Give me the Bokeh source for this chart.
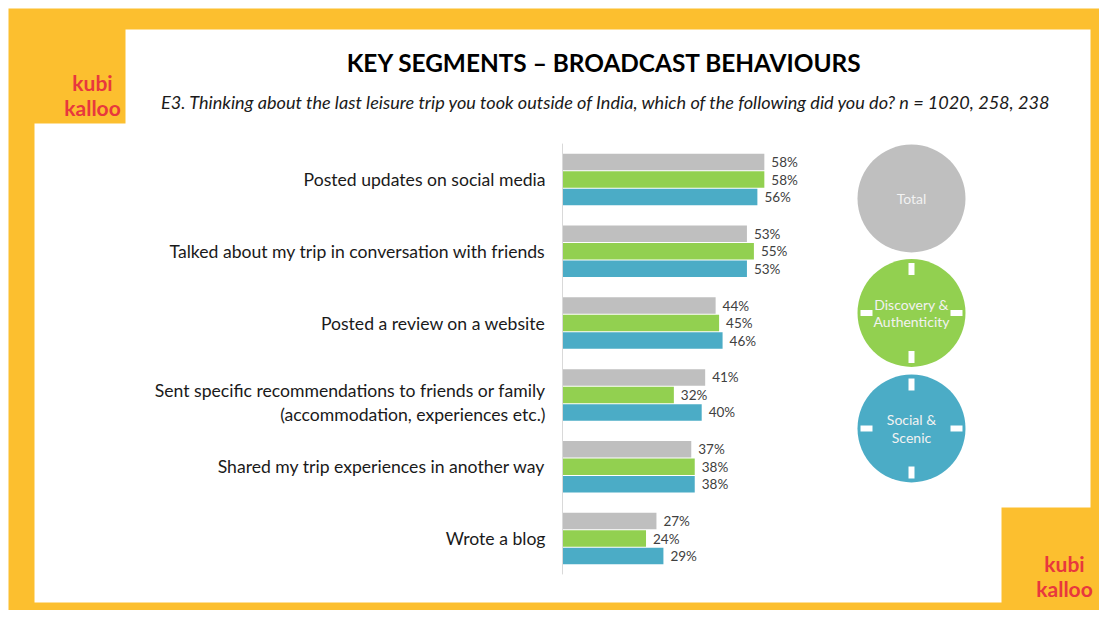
from bokeh.plotting import figure
from bokeh.models import Range1d, ColumnDataSource
from bokeh.core.properties import value
from bokeh.embed import file_html
from bokeh.resources import INLINE
import numpy as np

# ---------------- data ----------------
categories = [
    "Posted updates on social media",
    "Talked about my trip in conversation with friends",
    "Posted a review on a website",
    "Sent specific recommendations to friends or family\n(accommodation, experiences etc.)",
    "Shared my trip experiences in another way",
    "Wrote a blog",
]
series_names = ["Total", "Discovery &\nAuthenticity", "Social &\nScenic"]
total = [58, 53, 44, 41, 37, 27]
discovery = [58, 55, 45, 32, 38, 24]
social = [56, 53, 46, 40, 38, 29]

title = "KEY SEGMENTS \u2013 BROADCAST BEHAVIOURS"
subtitle = ("E3. Thinking about the last leisure trip you took outside of India, "
            "which of the following did you do? n = 1020, 258, 238")

# ---------------- styling / layout ----------------
W, H = 1099, 610
YELLOW = "#fcbf2f"
COLORS = ["#bfbfbf", "#92d050", "#4bacc6"]
RED = "#e8383d"
FONT = "Lato"

X0, S = 562.0, 3.48   # picture x of 0 %, px per %
Y0, U = 179.0, 71.8   # picture y of first category, px per category


def dx(px):
    return (px - X0) / S


def dy(py):
    return (Y0 - py) / U


p = figure(width=W, height=H, output_backend="svg", toolbar_location=None,
           x_range=Range1d(dx(0), dx(W)), y_range=Range1d(dy(H), dy(0)),
           x_axis_location=None, y_axis_location=None, min_border=0)
p.grid.visible = False
p.outline_line_color = None
p.background_fill_color = "white"
p.border_fill_color = "white"

# yellow frame
p.quad(left=[dx(8)], right=[dx(1120)], top=[dy(8)], bottom=[dy(621)],
       fill_color=YELLOW, line_color=None)

# white panel
px_poly = [125, 1090, 1090, 1001, 1001, 34, 34, 125]
py_poly = [29, 29, 507, 507, 602, 602, 123, 123]
p.patch([dx(v) for v in px_poly], [dy(v) for v in py_poly],
        fill_color="white", line_color=None)

# logos
for (lx, ly) in [(92, 94), (1064, 575)]:
    p.text(x=[dx(lx)], y=[dy(ly)], text=["kubi\nkalloo"],
           text_font=value(FONT), text_font_style="bold", text_font_size="21px",
           text_color=RED, text_align="center", text_baseline="middle",
           text_line_height=1.0)

# title / subtitle
p.text(x=[dx(604)], y=[dy(62)], text=[title], text_font=value(FONT),
       text_font_style="bold", text_font_size="24.4px", text_color="#000000",
       text_align="center", text_baseline="middle")
p.text(x=[dx(606)], y=[dy(101)], text=[subtitle], text_font=value(FONT),
       text_font_style="italic", text_font_size="18.1px", text_color="#1a1a1a",
       text_align="center", text_baseline="middle")

# bars
idx = np.arange(len(categories))
offsets = [17.5 / U, 0.0, -17.5 / U]
bar_h = 16.5 / U
for vals, col, off in zip([total, discovery, social], COLORS, offsets):
    src = ColumnDataSource(dict(
        y=-idx + off, v=vals, lab=[f"{v}%" for v in vals]))
    p.hbar(y="y", right="v", left=0, height=bar_h, source=src,
           fill_color=col, line_color=None)
    p.text(x="v", y="y", text="lab", source=src, x_offset=7,
           text_font=value(FONT), text_font_size="13.5px", text_color="#404040",
           text_align="left", text_baseline="middle")

# axis line
p.segment(x0=[0], y0=[0.5], x1=[0], y1=[-(len(categories) - 1) - 0.5],
          line_color="#d9d9d9", line_width=1)

# category labels
cat_src = ColumnDataSource(dict(
    y=-idx, t=categories,
    yo=[8 if "\n" in c else 0 for c in categories]))
p.text(x=0, y="y", text="t", source=cat_src, x_offset=-17, y_offset="yo",
       text_font=value(FONT), text_font_size="17.6px", text_color="#1a1a1a",
       text_align="right", text_baseline="middle", text_line_height=1.15)

# series "legend" circles
cpx = 911
cpys = [198, 312.5, 428]
R = 54
cx = dx(cpx)
cys = [dy(v) for v in cpys]
p.circle(x=[cx] * 3, y=cys, radius=R, radius_units="screen",
         fill_color=COLORS, line_color=None)
p.text(x=[cx] * 3, y=cys, text=series_names, text_font=value(FONT),
       text_font_size="14px", text_color="#f2f2f2", text_align="center",
       text_baseline="middle", text_line_height=1.05)
for cpy in cpys[1:]:
    p.rect(x=[cx, cx], y=[dy(cpy - (R - 10)), dy(cpy + (R - 10))],
           width=6, height=12, width_units="screen", height_units="screen",
           fill_color="white", line_color=None)
    p.rect(x=[dx(cpx - (R - 9)), dx(cpx + (R - 9))], y=[dy(cpy), dy(cpy)],
           width=12, height=6, width_units="screen", height_units="screen",
           fill_color="white", line_color=None)

open("out.html", "w").write(file_html(p, INLINE))
